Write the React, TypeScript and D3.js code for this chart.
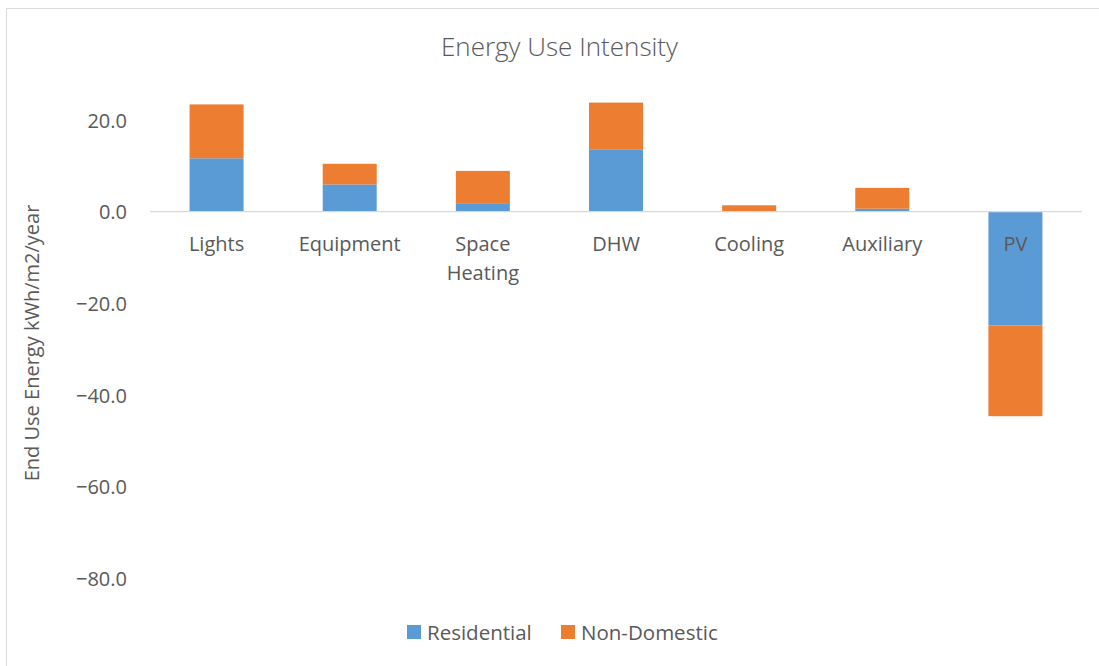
import React from "react";
import * as d3 from "d3";

const categories = ["Lights", "Equipment", "Space Heating", "DHW", "Cooling", "Auxiliary", "PV"];
const residential = [11.65, 5.95, 1.7, 13.5, 0.0, 0.65, -24.8];
const nonDomestic = [11.75, 4.5, 7.2, 10.3, 1.4, 4.55, -19.8];
const seriesNames = ["Residential", "Non-Domestic"];
const seriesColors = ["#5B9BD5", "#ED7D31"];
const yTicks = [20, 0, -20, -40, -60, -80];
const yDomain = [-90, 30];

const W = 1099;
const H = 666;
const FONT = "'Open Sans', sans-serif";
const TEXT = "#595959";

export default function App() {
  const x = d3
    .scaleBand<string>()
    .domain(categories)
    .range([150, 1082])
    .paddingInner(0.5944)
    .paddingOuter(0.2972);
  const y = d3.scaleLinear().domain(yDomain).range([624.35, 74.15]);

  const table = categories.map((c, i) => ({
    category: c,
    Residential: residential[i],
    "Non-Domestic": nonDomestic[i],
  }));
  const stack = d3
    .stack<any>()
    .keys(seriesNames)
    .offset(d3.stackOffsetDiverging);
  const layers = stack(table);

  const labelLines = (c: string) => (c === "Space Heating" ? ["Space", "Heating"] : [c]);

  return (
    <svg
      width={W}
      height={H}
      style={{ position: "absolute", left: 0, top: 0, display: "block", background: "#fff" }}
      fontFamily={FONT}
    >
      <rect x={0} y={0} width={W} height={H} fill="#fff" />
      <rect x={6.5} y={8.5} width={W + 20} height={H + 20} fill="none" stroke="#D9D9D9" strokeWidth={1} />
      <text x={559.5} y={56} textAnchor="middle" fontSize={26} fontWeight={300} fill={TEXT}>
        Energy Use Intensity
      </text>

      {layers.map((layer, si) => (
        <g key={seriesNames[si]} fill={seriesColors[si]}>
          {layer.map((d, i) => {
            const y0 = y(d[0]);
            const y1 = y(d[1]);
            return (
              <rect
                key={i}
                x={x(categories[i])}
                width={x.bandwidth()}
                y={Math.min(y0, y1)}
                height={Math.abs(y1 - y0)}
              />
            );
          })}
        </g>
      ))}

      <line x1={150} x2={1082} y1={y(0)} y2={y(0)} stroke="#D9D9D9" strokeWidth={1.3} />

      {yTicks.map((t) => (
        <text
          key={t}
          x={127}
          y={y(t)}
          textAnchor="end"
          dominantBaseline="central"
          fontSize={20}
          fill={TEXT}
        >
          {d3.format(".1f")(t)}
        </text>
      ))}

      <text
        transform={`translate(${31},${343}) rotate(-90)`}
        textAnchor="middle"
        dominantBaseline="central"
        fontSize={20}
        fill={TEXT}
      >
        End Use Energy kWh/m2/year
      </text>

      {categories.map((c) => (
        <text
          key={c}
          x={(x(c) as number) + x.bandwidth() / 2}
          y={251}
          textAnchor="middle"
          fontSize={20}
          fill={TEXT}
        >
          {labelLines(c).map((l, k) => (
            <tspan key={k} x={(x(c) as number) + x.bandwidth() / 2} dy={k === 0 ? 0 : 29}>
              {l}
            </tspan>
          ))}
        </text>
      ))}

      {seriesNames.map((s, i) => {
        const lx = [407, 561][i];
        return (
          <g key={s}>
            <rect x={lx} y={625} width={14} height={14} fill={seriesColors[i]} />
            <text x={lx + 20} y={632} dominantBaseline="central" fontSize={20.5} fill={TEXT}>
              {s}
            </text>
          </g>
        );
      })}
    </svg>
  );
}
